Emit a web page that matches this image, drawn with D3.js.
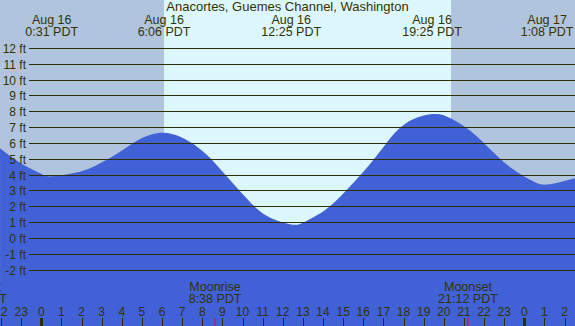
<!DOCTYPE html>
<html>
<head>
<meta charset="utf-8">
<script src="https://cdn.jsdelivr.net/npm/d3@7"></script>
<style>
  body { margin: 0; padding: 0; background: #fff; }
  svg text { font-family: "Liberation Sans", Arial, sans-serif; fill: #333300; }
</style>
</head>
<body>
<div id="chart"></div>
<script>
var width = 575, height = 326;

// tide height (ft), hours from midnight Aug 16
var tideHours = [-2.05, -1.06, -0.06, 0.52, 1.92, 2.92, 3.91, 4.91, 6.1, 7.22, 8.22, 9.21, 10.21, 11.2, 12.42, 13.1, 14.1, 15.09, 16.08, 17.08, 18.07, 19.42, 20.39, 21.39, 22.38, 23.37, 24.37, 25.13, 26.52]
var tideFeet  = [5.66, 4.75, 4.08, 3.9, 4.18, 4.71, 5.44, 6.25, 6.64, 6.18, 5.25, 3.9, 2.5, 1.4, 0.85, 1.03, 1.77, 2.92, 4.29, 5.87, 7.2, 7.82, 7.52, 6.68, 5.5, 4.4, 3.62, 3.37, 3.77]

var feetTicks = [-2, -1, 0, 1, 2, 3, 4, 5, 6, 7, 8, 9, 10, 11, 12]
var hourTicks = [-2, -1, 0, 1, 2, 3, 4, 5, 6, 7, 8, 9, 10, 11, 12, 13, 14, 15, 16, 17, 18, 19, 20, 21, 22, 23, 24, 25, 26]

var extremeHours = [0.517, 6.1, 12.417, 19.417, 25.133]
var extremeDays  = ["Aug 16", "Aug 16", "Aug 16", "Aug 16", "Aug 17"]
var extremeTimes = ["0:31 PDT", "6:06 PDT", "12:25 PDT", "19:25 PDT", "1:08 PDT"]

var sunrise = 6.1, sunset = 20.36

var moonNames = ["Moonset", "Moonrise", "Moonset"]
var moonHours = [-3.2, 8.633, 21.2]
var moonTimes = ["20:48 PDT", "8:38 PDT", "21:12 PDT"]

var title = "Anacortes, Guemes Channel, Washington"

var svg = d3.select("#chart").append("svg")
    .attr("width", width)
    .attr("height", height)
    .style("display", "block");

//Set scales
var xScale = d3.scaleLinear().domain([0, 24]).range([41.3, 524.3]),
    yScale = d3.scaleLinear().domain([0, 12]).range([238, 47.8]);

//Night / day background
svg.append("rect")
    .attr("x", 0).attr("y", 0)
    .attr("width", width).attr("height", height)
    .attr("fill", "#b0c4de");

svg.append("rect")
    .attr("x", xScale(sunrise)).attr("y", 0)
    .attr("width", xScale(sunset) - xScale(sunrise)).attr("height", height)
    .attr("fill", "#ddf7ff");

//Water
var data = tideHours.map((h, i) => ({hour: h, feet: tideFeet[i]}))

var area = d3.area()
    .x(d => xScale(d.hour))
    .y0(height)
    .y1(d => yScale(d.feet))
    .curve(d3.curveNatural);

svg.append("path")
    .datum(data)
    .attr("d", area)
    .attr("fill", "#4161d6");

//Grid lines and feet labels
svg.selectAll(".grid")
    .data(feetTicks)
    .enter().append("line")
    .attr("x1", 29).attr("x2", width)
    .attr("y1", d => Math.round(yScale(d)) + 0.5)
    .attr("y2", d => Math.round(yScale(d)) + 0.5)
    .attr("stroke", "#2e2e00")
    .attr("stroke-width", 1);

svg.selectAll(".ylab")
    .data(feetTicks)
    .enter().append("text")
    .attr("x", 26)
    .attr("y", d => Math.round(yScale(d)) + 4.5)
    .attr("text-anchor", "end")
    .style("font-size", "12px")
    .text(d => d + " ft");

//Title and tide extremes
svg.append("text")
    .attr("x", width / 2)
    .attr("y", 11)
    .attr("text-anchor", "middle")
    .style("font-size", "13px")
    .text(title);

var ext = svg.selectAll(".ext")
    .data(extremeHours)
    .enter().append("g")
    .attr("transform", d => "translate(" + xScale(d) + ",0)");

ext.append("text")
    .attr("y", 23.5)
    .attr("text-anchor", "middle")
    .style("font-size", "12.5px")
    .text((d, i) => extremeDays[i]);

ext.append("text")
    .attr("y", 35.5)
    .attr("text-anchor", "middle")
    .style("font-size", "12.5px")
    .text((d, i) => extremeTimes[i]);

//Moon events
var moon = svg.selectAll(".moon")
    .data(moonHours)
    .enter().append("g")
    .attr("transform", d => "translate(" + xScale(d) + ",0)");

moon.append("text")
    .attr("y", 291)
    .attr("text-anchor", "middle")
    .style("font-size", "12.5px")
    .text((d, i) => moonNames[i]);

moon.append("text")
    .attr("y", 303)
    .attr("text-anchor", "middle")
    .style("font-size", "12.5px")
    .text((d, i) => moonTimes[i]);

moon.append("line")
    .attr("x1", 0).attr("x2", 0)
    .attr("y1", 318).attr("y2", height)
    .attr("stroke", "#ff0000")
    .attr("stroke-width", 1);

//Hour ticks
svg.selectAll(".tick")
    .data(hourTicks)
    .enter().append("line")
    .attr("x1", d => Math.round(xScale(d)) + 0.5)
    .attr("x2", d => Math.round(xScale(d)) + 0.5)
    .attr("y1", 318).attr("y2", height)
    .attr("stroke", "#2e2e00")
    .attr("stroke-width", d => ((d % 24) + 24) % 24 == 0 ? 3 : 1);

svg.selectAll(".xlab")
    .data(hourTicks)
    .enter().append("text")
    .attr("x", d => xScale(d))
    .attr("y", 315.5)
    .attr("text-anchor", "middle")
    .style("font-size", "12px")
    .text(d => ((d % 24) + 24) % 24);
</script>
</body>
</html>
